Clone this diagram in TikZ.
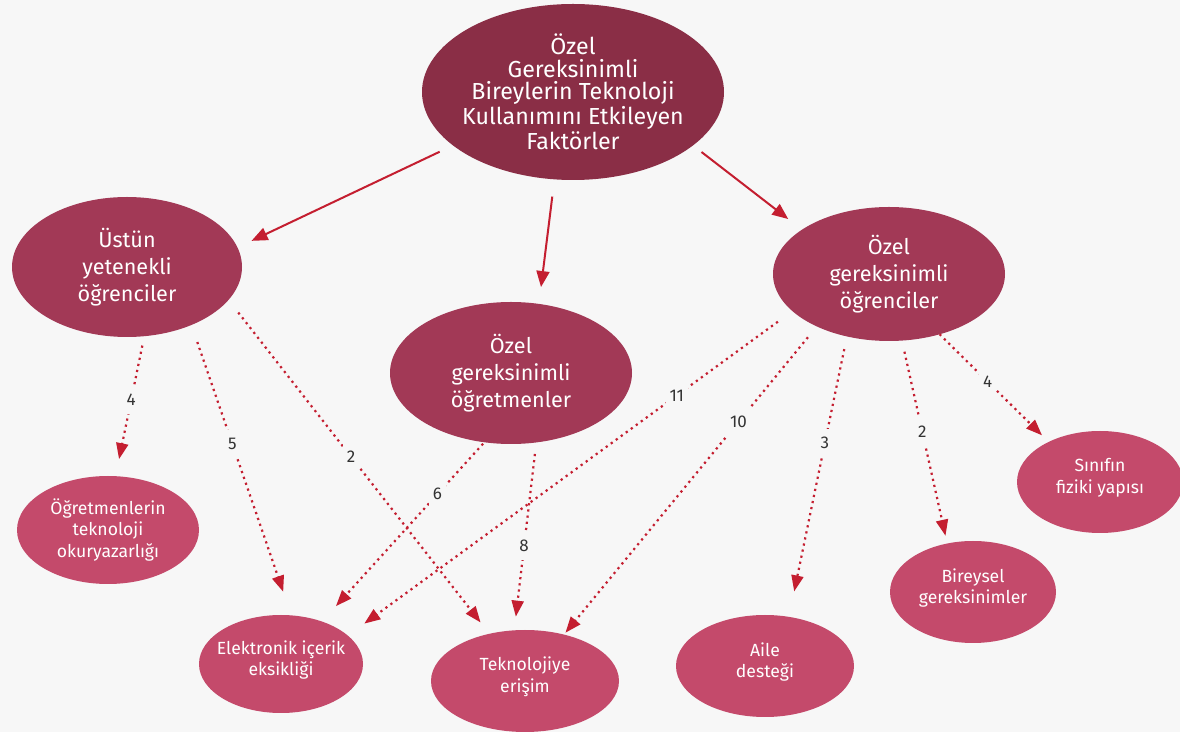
\documentclass[tikz,border=0pt]{standalone}
\usepackage{fontspec}
\setmainfont{Fira Sans}
\usetikzlibrary{arrows.meta, shapes.geometric}

\definecolor{bgcol}{HTML}{F7F7F7}
\definecolor{rootcol}{HTML}{8A2E46}
\definecolor{midcol}{HTML}{A23956}
\definecolor{leafcol}{HTML}{C44A6B}
\definecolor{arrowcol}{HTML}{C41E30}
\definecolor{numcol}{HTML}{333333}

\begin{document}
\begin{tikzpicture}[x=0.5pt, y=-0.5pt,
    bubble/.style={ellipse, inner sep=0pt, outer sep=0pt},
    R/.style={bubble, fill=rootcol},
    M/.style={bubble, fill=midcol},
    L/.style={bubble, fill=leafcol},
    Rtext/.style={text=white, align=center, font=\fontsize{11.6}{11.3}\selectfont},
    Mtext/.style={text=white, align=center, font=\fontsize{10.8}{13.5}\selectfont},
    Ltext/.style={text=white, align=center, font=\fontsize{8.8}{10.8}\selectfont},
    solidarrow/.style={draw=arrowcol, line width=1pt, -{Triangle[length=8pt, width=6.5pt]}},
    dotarrow/.style={draw=arrowcol, line width=1.1pt, dash pattern=on 1.1pt off 2pt, -{Triangle[length=8pt, width=6pt]}},
    num/.style={fill=bgcol, text=numcol, inner xsep=2pt, inner ysep=4pt, font=\fontsize{8.5}{10}\selectfont}]
    \fill[bgcol] (0,0) rectangle (1180,732);
    \useasboundingbox (0,0) rectangle (1180,732);

    % root
    \node[R, minimum width=151pt, minimum height=88pt,
        label={[Rtext]center:{Özel\\Gereksinimli\\Bireylerin Teknoloji\\Kullanımını Etkileyen\\Faktörler}}] (root) at (573,92) {};

    % second level
    \node[M, minimum width=115pt, minimum height=70pt,
        label={[Mtext]center:{Üstün\\yetenekli\\öğrenciler}}] (ustun) at (127,267) {};
    \node[M, minimum width=121pt, minimum height=71pt,
        label={[Mtext]center:{Özel\\gereksinimli\\öğretmenler}}] (ogretmen) at (511,373) {};
    \node[M, minimum width=116pt, minimum height=67pt,
        label={[Mtext]center:{Özel\\gereksinimli\\öğrenciler}}] (ogrenci) at (889,274) {};

    % factors
    \node[L, minimum width=91pt, minimum height=54pt,
        label={[Ltext]center:{Öğretmenlerin\\teknoloji\\okuryazarlığı}}] (okuryazar) at (108,530) {};
    \node[L, minimum width=82pt, minimum height=49pt,
        label={[Ltext, yshift=2pt]center:{Elektronik içerik\\eksikliği}}] (icerik) at (281,664) {};
    \node[L, minimum width=94pt, minimum height=51pt,
        label={[Ltext, yshift=2pt]center:{Teknolojiye\\erişim}}] (erisim) at (525,681) {};
    \node[L, minimum width=89pt, minimum height=51pt,
        label={[Ltext, yshift=2pt]center:{Aile\\desteği}}] (aile) at (765,666) {};
    \node[L, minimum width=83pt, minimum height=51pt,
        label={[Ltext, yshift=2pt]center:{Bireysel\\gereksinimler}}] (bireysel) at (973,592) {};
    \node[L, minimum width=83pt, minimum height=51pt,
        label={[Ltext, yshift=2pt]center:{Sınıfın\\fiziki yapısı}}] (sinif) at (1100,482) {};

    % solid arrows
    \draw[solidarrow, shorten <=7.4pt, shorten >=7.8pt] (root.204.2) -- (ustun.10.4);
    \draw[solidarrow, shorten <=8.7pt, shorten >=8.5pt] (root.258.6) -- (ogretmen.68.1);
    \draw[solidarrow, shorten <=5.4pt, shorten >=8.7pt] (root.-24.7) -- (ogrenci.153.8);

    % dotted arrows with counts
    \draw[dotarrow, shorten <=4.8pt, shorten >=8.7pt] (ustun.-76.5) -- node[num, pos=.455] {4} (okuryazar.82.8);
    \draw[dotarrow, shorten <=9pt, shorten >=12.5pt] (ustun.-42.4) -- node[num, pos=.41] {5} (icerik.78.3);
    \draw[dotarrow, shorten <=8pt, shorten >=7.2pt] (ustun.-18) -- node[num, pos=.47] {2} (erisim.127.6);
    \draw[dotarrow, shorten <=1pt, shorten >=10.4pt] (ogretmen.249.8) -- node[num, pos=.29] {6} (icerik.46.5);
    \draw[dotarrow, shorten <=5.8pt, shorten >=6.9pt] (ogretmen.-70.8) -- node[num, pos=.55] {8} (erisim.102.9);
    \draw[dotarrow, shorten <=9pt, shorten >=10.2pt] (ogrenci.201.4) -- node[num, pos=.26] {11} (icerik.23.7);
    \draw[dotarrow, shorten <=7pt, shorten >=1.2pt] (ogrenci.216.2) -- node[num, pos=.31] {10} (erisim.50.4);
    \draw[dotarrow, shorten <=6.5pt, shorten >=13pt] (ogrenci.236.5) -- node[num, pos=.38] {3} (aile.64.7);
    \draw[dotarrow, shorten <=5.7pt, shorten >=4pt] (ogrenci.281.6) -- node[num, pos=.45] {2} (bireysel.118.9);
    \draw[dotarrow, shorten >=4.7pt] (ogrenci.-50.2) -- node[num, pos=.44] {4} (sinif.142.3);
\end{tikzpicture}
\end{document}
